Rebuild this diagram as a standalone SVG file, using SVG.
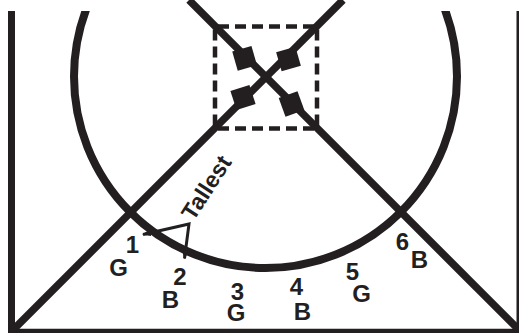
<svg xmlns="http://www.w3.org/2000/svg" width="519" height="333" viewBox="0 0 519 333">
<style>
.ln{stroke:#231f20;fill:none;stroke-linecap:butt}
.lbl{font-family:"Liberation Sans",Arial,sans-serif;font-weight:bold;font-size:24px;fill:#231f20;text-anchor:middle}
.tl{font-size:23px}
.sq{fill:#231f20}
</style>
<defs>
<clipPath id="top"><rect x="0" y="11" width="519" height="322"/></clipPath>
<rect id="sqr" x="-10" y="-10" width="20" height="20"/>
<marker id="tip" viewBox="0 0 10 8" refX="9" refY="4" markerWidth="9" markerHeight="7" markerUnits="userSpaceOnUse" orient="auto-start-reverse">
<path d="M0,0 L10,4 L0,8 z" fill="#231f20"/>
</marker>
</defs>
<rect width="519" height="333" fill="#fff"/>
<g id="frame">
<line class="ln" x1="11.5" y1="11" x2="11.5" y2="333" stroke-width="7"/>
<line class="ln" x1="520" y1="11" x2="520" y2="333" stroke-width="7"/>
<line class="ln" x1="8" y1="331" x2="519" y2="331" stroke-width="4.5"/>
</g>
<g id="circle">
<circle class="ln" cx="265.5" cy="76.5" r="191.5" stroke-width="8" clip-path="url(#top)"/>
</g>
<g id="connectors">
<line class="ln" x1="12" y1="331" x2="343" y2="0" stroke-width="7.5"/>
<line class="ln" x1="189" y1="0" x2="520" y2="331" stroke-width="7.5"/>
</g>
<g id="box">
<rect class="ln" x="215" y="26.5" width="102" height="102" stroke-width="4.5" stroke-dasharray="11 6" stroke-dashoffset="14"/>
</g>
<g id="markers">
<use href="#sqr" class="sq" transform="translate(244.6,58.3) rotate(-16)"/>
<use href="#sqr" class="sq" transform="translate(288.5,59) rotate(-16)"/>
<use href="#sqr" class="sq" transform="translate(243,97.5) rotate(-18)"/>
<use href="#sqr" class="sq" transform="translate(291.5,104) rotate(-20)"/>
</g>
<g id="tallest">
<path class="ln" d="M143,234.5 L189,224 L184.5,258.5" stroke-width="3" stroke-linejoin="miter" marker-start="url(#tip)" marker-end="url(#tip)"/>
<text class="lbl tl" x="213" y="192" transform="rotate(-57 213 192)">Tallest</text>
</g>
<g id="labels">
<text class="lbl" x="132.5" y="253">1</text>
<text class="lbl" x="118.5" y="276">G</text>
<text class="lbl" x="180" y="285">2</text>
<text class="lbl" x="170.5" y="308">B</text>
<text class="lbl" x="237.5" y="300">3</text>
<text class="lbl" x="236" y="321">G</text>
<text class="lbl" x="296.5" y="295">4</text>
<text class="lbl" x="302.5" y="320">B</text>
<text class="lbl" x="352.5" y="280">5</text>
<text class="lbl" x="361.5" y="302">G</text>
<text class="lbl" x="402.5" y="250">6</text>
<text class="lbl" x="419.5" y="268">B</text>
</g>
</svg>
